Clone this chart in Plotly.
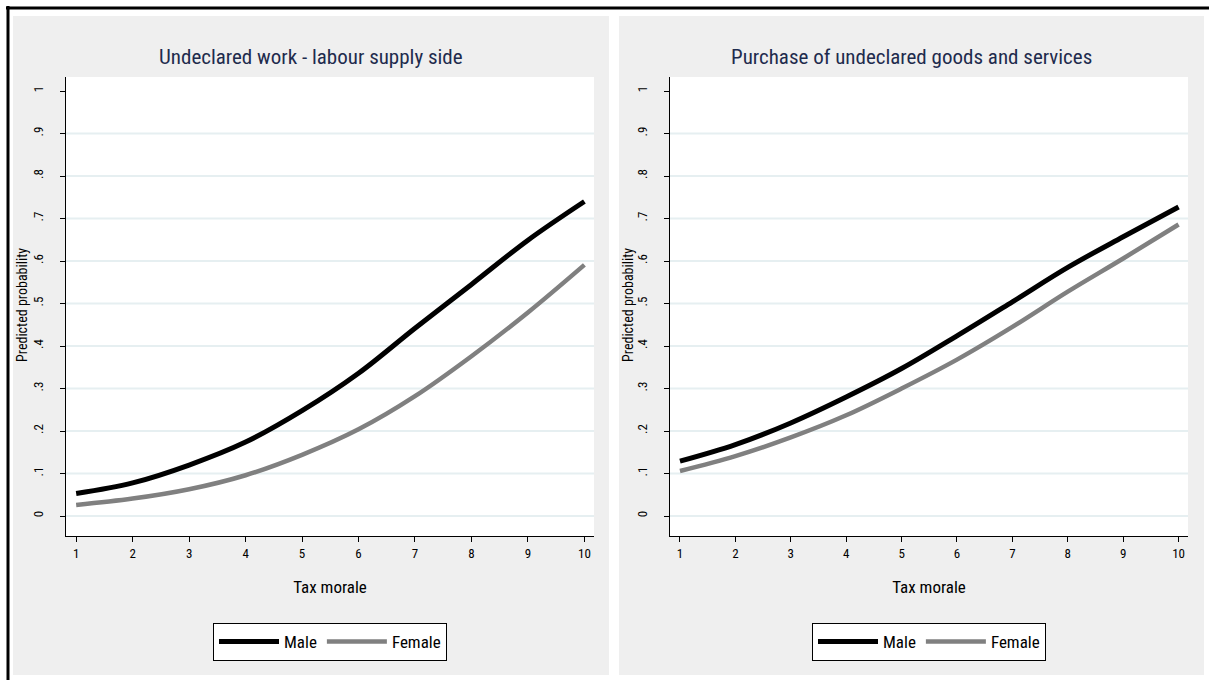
import plotly.graph_objects as go

# ---- data ----
tax_morale = [1, 2, 3, 4, 5, 6, 7, 8, 9, 10]
work_male = [0.053, 0.078, 0.120, 0.174, 0.248, 0.336, 0.442, 0.545, 0.649, 0.740]
work_female = [0.026, 0.041, 0.063, 0.096, 0.144, 0.204, 0.282, 0.376, 0.479, 0.591]
purchase_male = [0.129, 0.168, 0.219, 0.280, 0.347, 0.424, 0.504, 0.585, 0.657, 0.727]
purchase_female = [0.106, 0.141, 0.185, 0.237, 0.300, 0.368, 0.445, 0.528, 0.606, 0.686]
y_tick_vals = [0, 0.1, 0.2, 0.3, 0.4, 0.5, 0.6, 0.7, 0.8, 0.9, 1]
y_tick_text = ["0", ".1", ".2", ".3", ".4", ".5", ".6", ".7", ".8", ".9", "1"]
grid_vals = y_tick_vals[:-1]
titles = ["Undeclared work - labour supply side", "Purchase of undeclared goods and services"]
series_names = ["Male", "Female"]
y_title = "Predicted probability"
x_title = "Tax morale"

W, H = 1209, 680
def px(x):
    return x / W
def py(y):
    return 1 - y / H

FONT = "Liberation Sans Narrow, Arial Narrow, Roboto Condensed, Liberation Sans, sans-serif"
TITLE_COLOR = "#1e2b4d"
GRID = "#e6eff1"
PANEL = "#efefef"

fig = go.Figure()

panels = [
    dict(data=(work_male, work_female), x="x", y="y", legend="legend",
         dom=(66, 594), panel=(13, 609), ytitle_x=22),
    dict(data=(purchase_male, purchase_female), x="x2", y="y2", legend="legend2",
         dom=(670, 1188), panel=(619, 1204), ytitle_x=628),
]
colors = ["#000000", "#808080"]
widths = [5, 4.5]

for p in panels:
    for vals, name, c, w in zip(p["data"], series_names, colors, widths):
        fig.add_trace(go.Scatter(
            x=tax_morale, y=vals, name=name, mode="lines",
            line=dict(color=c, width=w, shape="spline", smoothing=1.0),
            xaxis=p["x"], yaxis=p["y"], legend=p["legend"],
        ))

y_range = [-0.047, 1.033]
x_range = [0.82, 10.17]
ydom = [py(536), py(77)]

layout = dict(
    width=W, height=H,
    margin=dict(l=0, r=0, t=0, b=0),
    paper_bgcolor="white", plot_bgcolor="white",
    font=dict(family=FONT, color="#000000"),
    showlegend=True,
)

shapes = []
for i, p in enumerate(panels):
    sfx = "" if i == 0 else "2"
    layout["xaxis" + sfx] = dict(
        domain=[px(p["dom"][0]), px(p["dom"][1])], anchor=p["y"],
        range=x_range, tickvals=tax_morale, ticks="outside", ticklen=5,
        tickcolor="#000000", showline=True, linecolor="#000000", linewidth=1,
        showgrid=False, zeroline=False, tickfont=dict(size=13),
        title=dict(text=x_title, font=dict(size=17), standoff=21),
    )
    layout["yaxis" + sfx] = dict(
        domain=ydom, anchor=p["x"], range=y_range,
        tickvals=y_tick_vals, ticktext=y_tick_text, tickangle=-90,
        ticks="outside", ticklen=5, tickcolor="#000000", ticklabelstandoff=12,
        showline=True, linecolor="#000000", linewidth=1,
        showgrid=False, zeroline=False, tickfont=dict(size=13),
    )
    layout[p["legend"]] = dict(
        x=px((p["dom"][0] + p["dom"][1]) / 2), xanchor="center",
        y=py(623), yanchor="top", orientation="h",
        bgcolor="white", bordercolor="#000000", borderwidth=1,
        font=dict(size=17), itemwidth=60,
    )
    # grey panel (paper), white plot area, horizontal grid lines (none at 1)
    shapes.append(dict(type="rect", xref="paper", yref="paper",
                       x0=px(p["panel"][0]), x1=px(p["panel"][1]), y0=py(675), y1=py(16),
                       fillcolor=PANEL, line=dict(width=0), layer="below"))
    shapes.append(dict(type="rect", xref=p["x"] + " domain", yref=p["y"] + " domain",
                       x0=0, x1=1, y0=0, y1=1,
                       fillcolor="white", line=dict(width=0), layer="below"))
    for g in grid_vals:
        shapes.append(dict(type="line", xref=p["x"] + " domain", yref=p["y"],
                           x0=0, x1=1, y0=g, y1=g,
                           line=dict(color=GRID, width=2), layer="below"))

fig.update_layout(**layout)

shapes.append(dict(type="line", xref="paper", yref="paper", x0=px(6), x1=1, y0=py(8), y1=py(8),
                   line=dict(color="#000000", width=3), layer="above"))
shapes.append(dict(type="line", xref="paper", yref="paper", x0=px(8), x1=px(8), y0=py(6), y1=0,
                   line=dict(color="#000000", width=3), layer="above"))
fig.update_layout(shapes=shapes)

for p, t in zip(panels, titles):
    fig.add_annotation(text=t, xref="paper", yref="paper",
                       x=px((p["panel"][0] + p["panel"][1]) / 2), y=py(57),
                       xanchor="center", yanchor="middle", showarrow=False,
                       font=dict(size=21, color=TITLE_COLOR, family=FONT))
    fig.add_annotation(text=y_title, xref="paper", yref="paper",
                       x=px(p["ytitle_x"]), y=py(305), textangle=-90,
                       xanchor="center", yanchor="middle", showarrow=False,
                       font=dict(size=14, color="#000000", family=FONT))

fig.write_html(
    "out.html",
    config={"displayModeBar": False},
    post_script="document.body.style.margin='0';document.documentElement.style.overflow='hidden';",
)
